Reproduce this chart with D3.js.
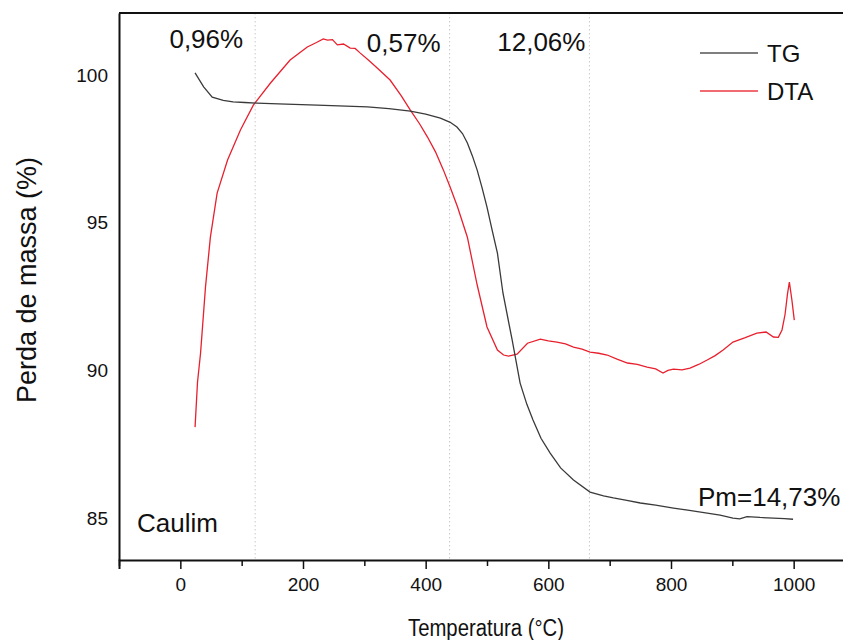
<!DOCTYPE html>
<html>
<head>
<meta charset="utf-8">
<script src="https://cdn.jsdelivr.net/npm/d3@7"></script>
<style>
  body { margin: 0; background: #fff; }
  svg { display: block; font-family: Arial, 'Liberation Sans', sans-serif; }
</style>
</head>
<body>
<script>
// TG curve: temperature (°C) vs mass (%)
var tgTemp = [24, 38, 52, 70, 86, 105, 125, 160, 223, 270, 305, 340, 375, 400, 424, 440, 451, 460, 468, 476, 484, 492, 500, 508, 517, 526, 541, 554, 565, 575, 588, 603, 620, 641, 668, 690, 706, 728, 750, 775, 804, 830, 859, 880, 901, 912, 924, 945, 967, 985, 999]
var tgMass = [100.07, 99.6, 99.25, 99.14, 99.09, 99.07, 99.05, 99.02, 98.98, 98.95, 98.92, 98.86, 98.78, 98.68, 98.54, 98.4, 98.24, 98.02, 97.7, 97.27, 96.78, 96.18, 95.53, 94.78, 93.97, 92.62, 91.03, 89.57, 88.85, 88.32, 87.7, 87.2, 86.7, 86.29, 85.88, 85.75, 85.68, 85.6, 85.51, 85.44, 85.34, 85.26, 85.17, 85.1, 85.0, 84.97, 85.05, 85.02, 85.0, 84.98, 84.96]

// DTA curve, drawn against the same axes
var dtaTemp = [24, 28, 33, 41, 49, 60, 77, 98, 119, 147, 179, 207, 222, 233, 240, 248, 256, 266, 277, 285, 293, 307, 321, 342, 360, 375, 390, 403, 416, 429, 440, 452, 468, 484, 500, 517, 527, 535, 549, 566, 587, 600, 614, 628, 641, 655, 668, 682, 696, 712, 729, 745, 761, 775, 787, 795, 804, 818, 831, 845, 859, 872, 885, 901, 920, 940, 955, 967, 975, 981, 986, 990, 993, 997, 1001]
var dtaValue = [88.08, 89.6, 90.59, 92.82, 94.51, 96.0, 97.12, 98.14, 98.98, 99.73, 100.51, 100.95, 101.1, 101.22, 101.18, 101.2, 101.02, 101.05, 100.91, 100.9, 100.75, 100.5, 100.24, 99.83, 99.3, 98.81, 98.35, 97.9, 97.4, 96.78, 96.2, 95.53, 94.51, 92.89, 91.47, 90.69, 90.52, 90.48, 90.55, 90.92, 91.06, 91.0, 90.96, 90.9, 90.79, 90.72, 90.62, 90.58, 90.52, 90.38, 90.25, 90.2, 90.11, 90.05, 89.91, 90.0, 90.04, 90.02, 90.08, 90.2, 90.35, 90.5, 90.69, 90.96, 91.1, 91.26, 91.3, 91.13, 91.12, 91.37, 91.9, 92.6, 92.99, 92.4, 91.7]

var seriesNames = ['TG', 'DTA']
var xTicks = [-100, 0, 100, 200, 300, 400, 500, 600, 700, 800, 900, 1000, 1100]
var yTicks = [85, 90, 95, 100]
var stageBounds = [122, 439, 667]
var stageLabels = ['0,96%', '0,57%', '12,06%']

var svgW = 843, svgH = 640
var margin = {top: 13, left: 119, bottom: 80}
var plotBottom = svgH - margin.bottom

var x = d3.scaleLinear().domain([-100, 1100]).range([margin.left, margin.left + 736])
var y = d3.scaleLinear().domain([83.58, 102.1]).range([plotBottom, margin.top])

var svg = d3.select('body').append('svg')
  .attr('width', svgW)
  .attr('height', svgH)

// dotted separators between the mass-loss stages
svg.selectAll('.stage')
  .data(stageBounds)
  .enter().append('line')
  .attr('class', 'stage')
  .attr('x1', d => x(d)).attr('x2', d => x(d))
  .attr('y1', margin.top).attr('y2', plotBottom)
  .attr('stroke', '#c8c8c8')
  .attr('stroke-width', 1)
  .attr('stroke-dasharray', '1.5,2.5')

var line = d3.line().x(d => x(d[0])).y(d => y(d[1]))

svg.append('path')
  .datum(dtaTemp.map((t, i) => [t, dtaValue[i]]))
  .attr('d', line)
  .attr('fill', 'none')
  .attr('stroke', '#e8202e')
  .attr('stroke-width', 1.3)

svg.append('path')
  .datum(tgTemp.map((t, i) => [t, tgMass[i]]))
  .attr('d', line)
  .attr('fill', 'none')
  .attr('stroke', '#3a3a3a')
  .attr('stroke-width', 1.3)

// frame: left axis and top border
svg.append('line')
  .attr('x1', margin.left).attr('x2', svgW)
  .attr('y1', margin.top).attr('y2', margin.top)
  .attr('stroke', '#111').attr('stroke-width', 2)

var xAxis = svg.append('g')
  .attr('transform', `translate(0, ${plotBottom})`)
  .call(d3.axisBottom(x).tickValues(xTicks).tickSizeOuter(0).tickSize(9).tickPadding(9)
    .tickFormat(d => d % 200 === 0 ? d : ''))
xAxis.select('.domain').attr('stroke', '#111').attr('stroke-width', 2)
xAxis.selectAll('.tick line').attr('stroke', '#111').attr('stroke-width', 1.5)
  .attr('y2', d => d % 200 === 0 ? 9 : 6)
xAxis.selectAll('text').attr('font-size', 19).attr('fill', '#111')

var yAxis = svg.append('g')
  .attr('transform', `translate(${margin.left}, 0)`)
  .call(d3.axisLeft(y).tickValues(yTicks).tickSize(0).tickPadding(11).tickSizeOuter(0))
yAxis.select('.domain').attr('stroke', '#111').attr('stroke-width', 2)
yAxis.selectAll('text').attr('font-size', 19).attr('fill', '#111')

// axis titles
svg.append('text')
  .attr('x', 486).attr('y', 636)
  .attr('text-anchor', 'middle')
  .attr('font-size', 23)
  .attr('textLength', 156)
  .attr('lengthAdjust', 'spacingAndGlyphs')
  .attr('fill', '#111')
  .text('Temperatura (°C)')

svg.append('text')
  .attr('transform', 'translate(36, 280) rotate(-90)')
  .attr('text-anchor', 'middle')
  .attr('font-size', 27)
  .attr('fill', '#111')
  .text('Perda de massa (%)')

// stage mass-loss labels, right-aligned just before each separator
var labelGap = [12, 9, 4]
var labelBase = [48, 52, 51]
svg.selectAll('.stageLabel')
  .data(stageLabels)
  .enter().append('text')
  .attr('class', 'stageLabel')
  .attr('x', (d, i) => x(stageBounds[i]) - labelGap[i])
  .attr('y', (d, i) => labelBase[i])
  .attr('text-anchor', 'end')
  .attr('font-size', 26)
  .attr('fill', '#111')
  .text(d => d)

svg.append('text')
  .attr('x', 137).attr('y', 532)
  .attr('font-size', 26).attr('fill', '#111')
  .text('Caulim')

svg.append('text')
  .attr('x', 698).attr('y', 506)
  .attr('font-size', 26).attr('fill', '#111')
  .text('Pm=14,73%')

// legend
var legColors = ['#555', '#ec3a44']
var leg = svg.selectAll('.leg')
  .data(seriesNames)
  .enter().append('g')
  .attr('class', 'leg')
  .attr('transform', (d, i) => `translate(700, ${53 + i * 38})`)
leg.append('line')
  .attr('x1', 0).attr('x2', 58)
  .attr('stroke', (d, i) => legColors[i])
  .attr('stroke-width', 1.3)
leg.append('text')
  .attr('x', 67).attr('dy', '0.36em')
  .attr('font-size', 24).attr('fill', '#111')
  .text(d => d)
</script>
</body>
</html>
